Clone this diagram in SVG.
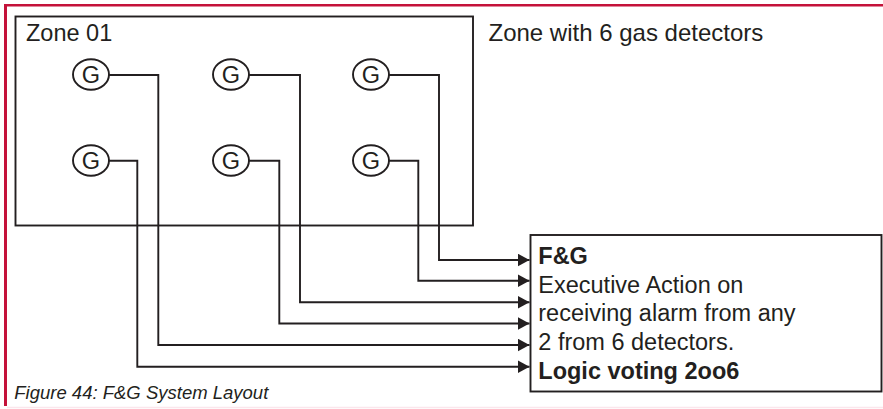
<svg xmlns="http://www.w3.org/2000/svg" width="883" height="409" viewBox="0 0 883 409">
<style>
.t{font-family:"Liberation Sans",Arial,sans-serif;font-size:23.5px;fill:#231f20}
.b{font-weight:bold}
.cap{font-family:"Liberation Sans",Arial,sans-serif;font-size:18.5px;font-style:italic;fill:#231f20}
.ln{fill:none;stroke:#231f20;stroke-width:1.9}
.g{fill:#fff;stroke:#231f20;stroke-width:1.9}
.gt{font-family:"Liberation Sans",Arial,sans-serif;font-size:23.5px;fill:#231f20;text-anchor:middle}
</style>
<defs>
<marker id="arr" markerUnits="userSpaceOnUse" markerWidth="13" markerHeight="14" refX="12" refY="6.5" orient="auto">
<path d="M0,0 L12,6.5 L0,13 z" fill="#231f20"/>
</marker>
</defs>
<rect width="883" height="409" fill="#fff"/>
<g id="frame">
<line x1="4" y1="5.3" x2="883" y2="5.3" stroke="#c4123a" stroke-width="2.6"/>
<line x1="5.5" y1="4" x2="5.5" y2="406" stroke="#c4123a" stroke-width="3"/>
<line x1="7" y1="407.5" x2="883" y2="407.5" stroke="#fbe6ec" stroke-width="1.5"/>
</g>
<g id="zone">
<rect x="15.5" y="16.5" width="457.5" height="209" class="ln"/>
<text x="26" y="40.5" class="t">Zone 01</text>
</g>
<text id="zone-label" x="488.5" y="41" class="t" style="font-size:24px">Zone with 6 gas detectors</text>
<g id="connectors">
<polyline class="ln" points="109,75 158.3,75 158.3,345 529.5,345" marker-end="url(#arr)"/>
<polyline class="ln" points="109,160.7 137.3,160.7 137.3,366.7 529.5,366.7" marker-end="url(#arr)"/>
<polyline class="ln" points="249,75 300,75 300,302.3 529.5,302.3" marker-end="url(#arr)"/>
<polyline class="ln" points="249,160.7 279.3,160.7 279.3,323.5 529.5,323.5" marker-end="url(#arr)"/>
<polyline class="ln" points="389,75 439,75 439,260 529.5,260" marker-end="url(#arr)"/>
<polyline class="ln" points="389,160.7 418.3,160.7 418.3,280.7 529.5,280.7" marker-end="url(#arr)"/>
</g>
<g id="g1"><ellipse cx="91" cy="74.5" rx="18" ry="15.2" class="g"/><text x="91" y="82.8" class="gt">G</text></g>
<g id="g2"><ellipse cx="231" cy="74.5" rx="18" ry="15.2" class="g"/><text x="231" y="82.8" class="gt">G</text></g>
<g id="g3"><ellipse cx="371" cy="74.5" rx="18" ry="15.2" class="g"/><text x="371" y="82.8" class="gt">G</text></g>
<g id="g4"><ellipse cx="91" cy="160.5" rx="18" ry="15.2" class="g"/><text x="91" y="168.8" class="gt">G</text></g>
<g id="g5"><ellipse cx="231" cy="160.5" rx="18" ry="15.2" class="g"/><text x="231" y="168.8" class="gt">G</text></g>
<g id="g6"><ellipse cx="371" cy="160.5" rx="18" ry="15.2" class="g"/><text x="371" y="168.8" class="gt">G</text></g>
<g id="fg">
<rect x="530.5" y="235" width="351" height="156.5" class="ln"/>
<text x="538.3" y="264" class="t b">F&amp;G</text>
<text x="538.3" y="292.5" class="t">Executive Action on</text>
<text x="538.3" y="321" class="t">receiving alarm from any</text>
<text x="538.3" y="349.5" class="t">2 from 6 detectors.</text>
<text x="538.3" y="378.5" class="t b">Logic voting 2oo6</text>
</g>
<text id="caption" x="14.3" y="399.3" class="cap">Figure 44: F&amp;G System Layout</text>
</svg>
